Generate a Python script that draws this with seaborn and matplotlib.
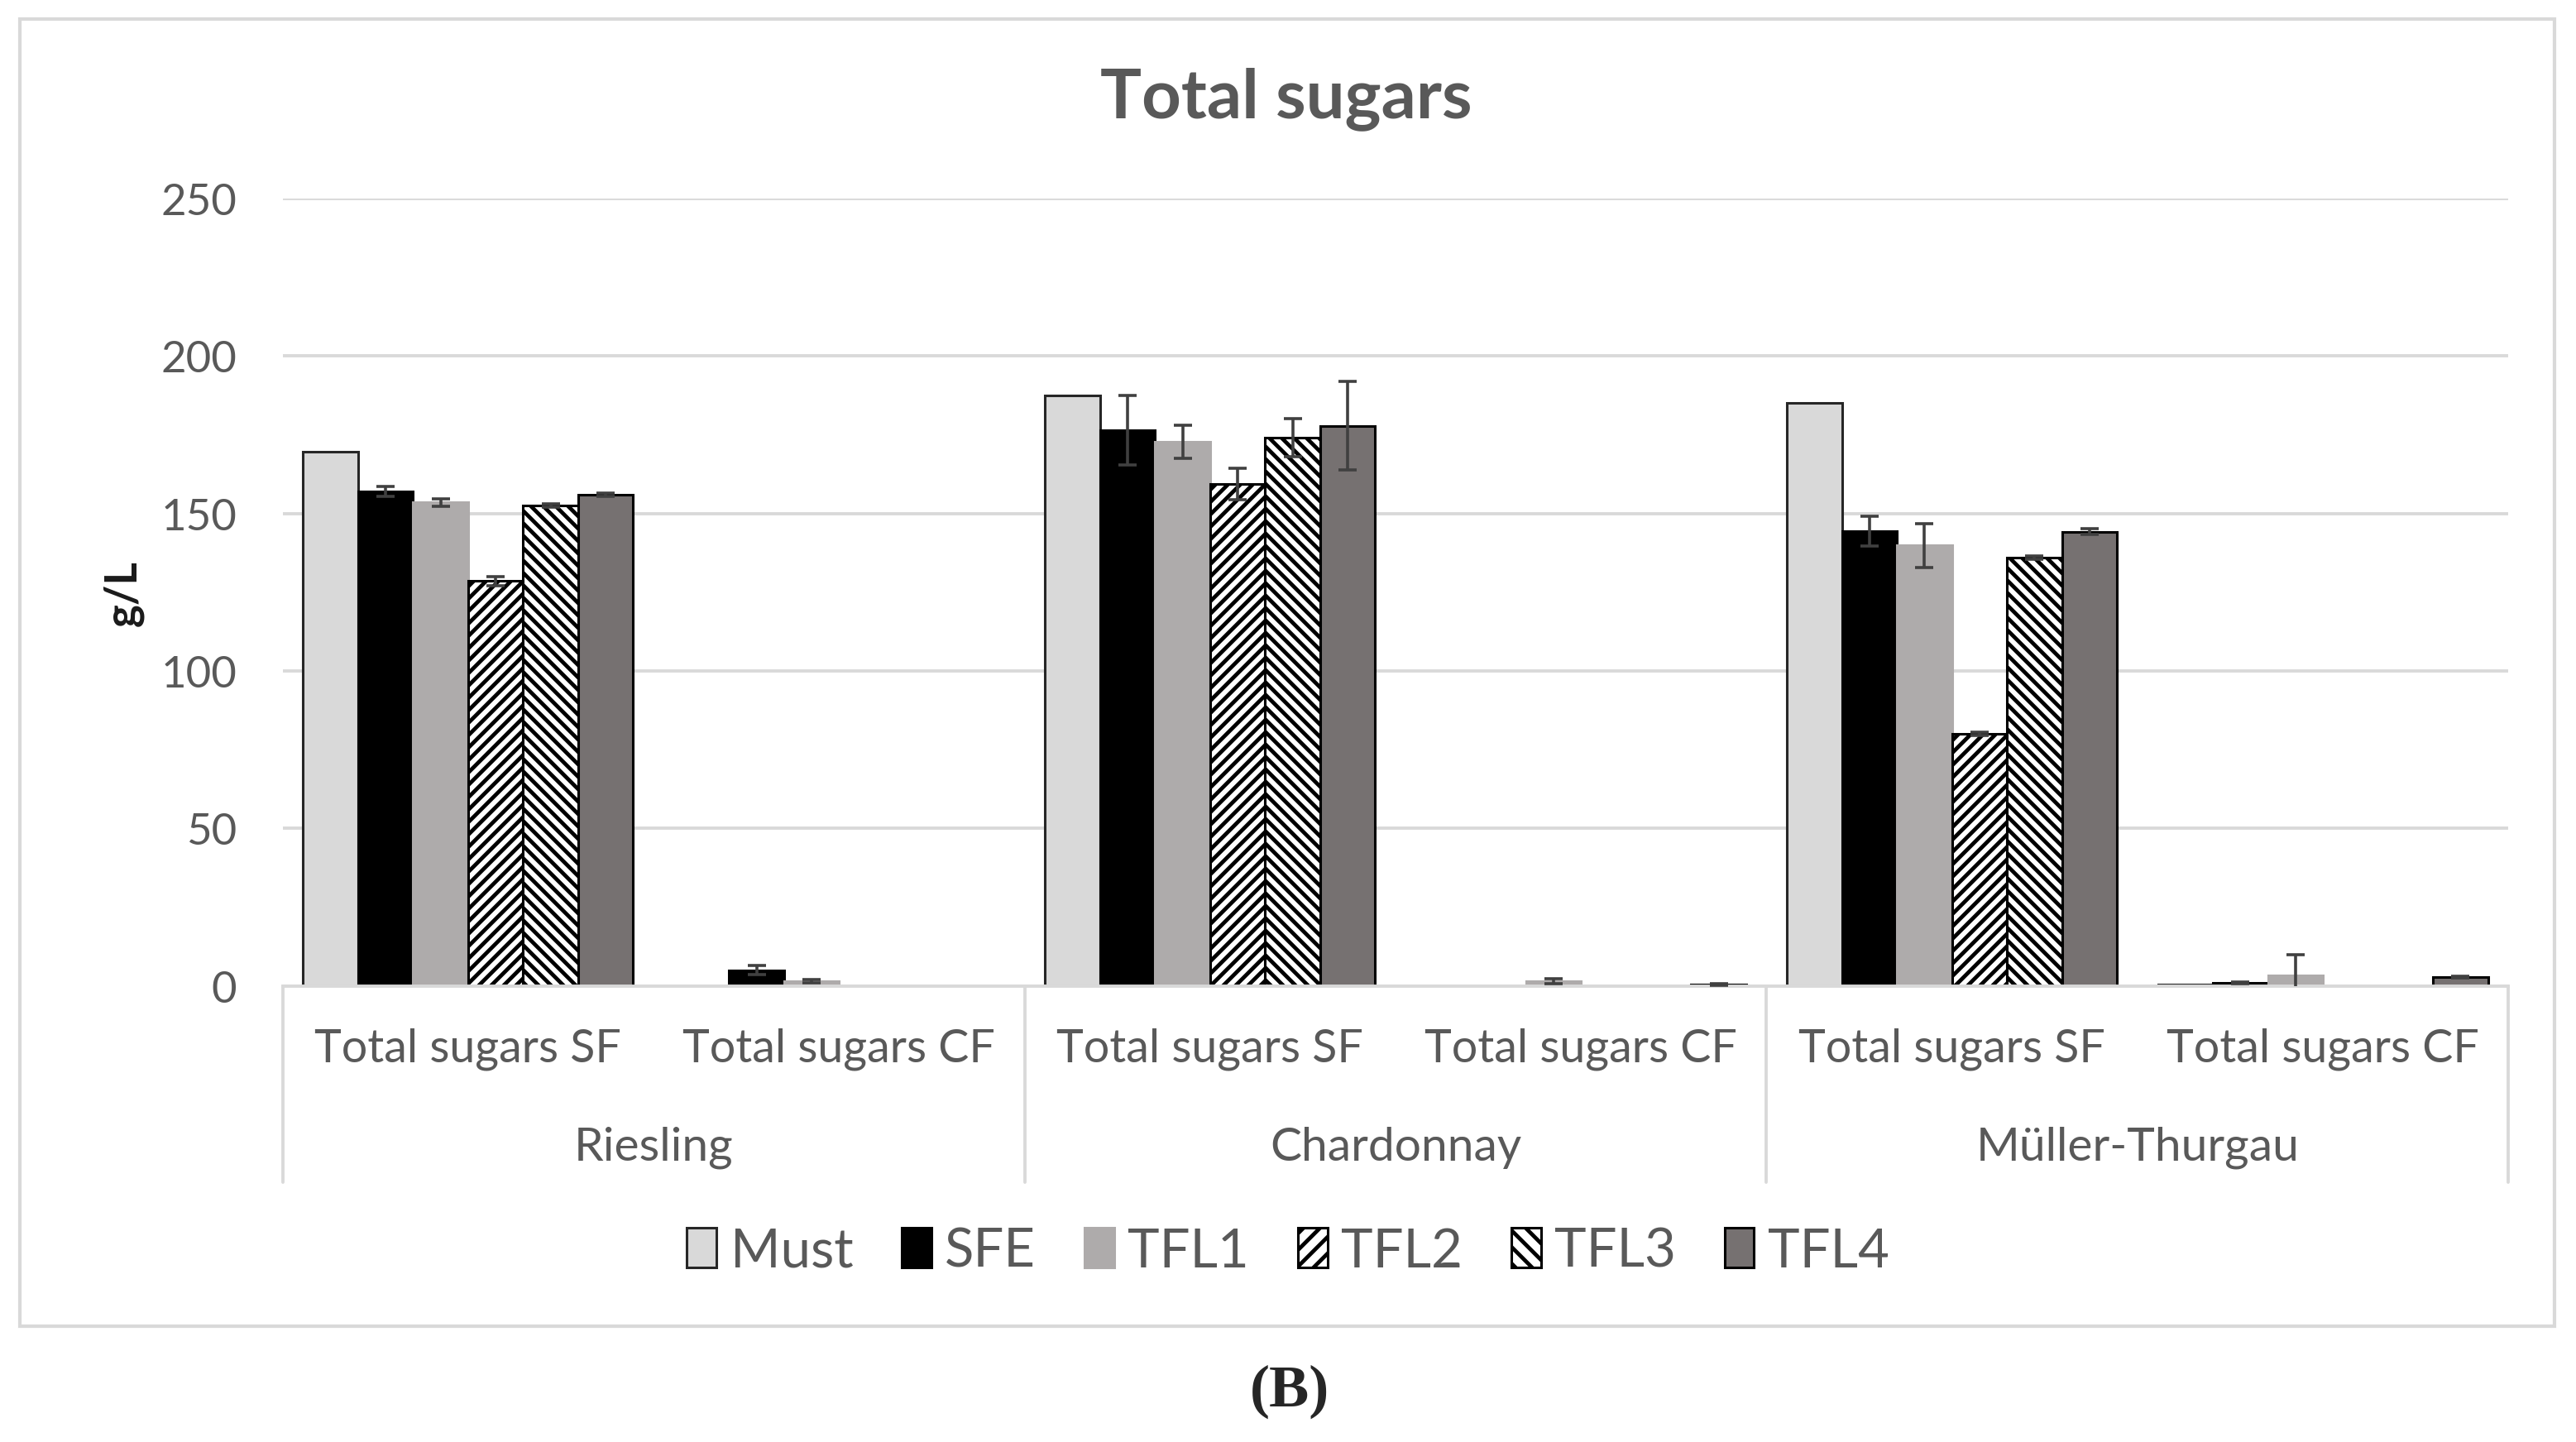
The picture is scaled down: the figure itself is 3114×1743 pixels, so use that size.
import numpy as np
import pandas as pd
import matplotlib
matplotlib.use("Agg")
import matplotlib.pyplot as plt
import matplotlib.transforms as mtransforms
import seaborn as sns
from matplotlib.patches import Patch, Rectangle


# ── data (g/L) ────────────────────────────────────────────────────────────────
varieties  = ["Riesling", "Chardonnay", "Müller-Thurgau"]
fractions  = ["Total sugars SF", "Total sugars CF"]
treatments = ["Must", "SFE", "TFL1", "TFL2", "TFL3", "TFL4"]

riesling_sf   = [169.5, 157.0, 153.5, 128.5, 152.5, 156.0]
riesling_cf   = [0.0, 5.0, 1.5, 0.0, 0.0, 0.0]
chardonnay_sf = [187.5, 176.5, 172.8, 159.3, 174.0, 177.8]
chardonnay_cf = [0.0, 0.0, 1.5, 0.0, 0.0, 0.5]
muller_sf     = [185.0, 144.3, 139.8, 80.0, 136.0, 144.2]
muller_cf     = [0.3, 1.0, 3.3, 0.0, 0.0, 2.7]

riesling_sf_err   = [0.0, 1.5, 1.2, 1.5, 0.5, 0.5]
riesling_cf_err   = [0.0, 1.5, 0.5, 0.0, 0.0, 0.0]
chardonnay_sf_err = [0.0, 11.0, 5.3, 5.0, 6.0, 14.0]
chardonnay_cf_err = [0.0, 0.0, 0.8, 0.0, 0.0, 0.3]
muller_sf_err     = [0.0, 4.8, 7.0, 0.5, 0.5, 1.0]
muller_cf_err     = [0.0, 0.3, 6.5, 0.0, 0.0, 0.3]

means = [riesling_sf, riesling_cf, chardonnay_sf, chardonnay_cf, muller_sf, muller_cf]
errs  = [riesling_sf_err, riesling_cf_err, chardonnay_sf_err, chardonnay_cf_err,
         muller_sf_err, muller_cf_err]

# ── styles ────────────────────────────────────────────────────────────────────
face  = {"Must": "#D9D9D9", "SFE": "#000000", "TFL1": "#AEABAB",
         "TFL2": "#FFFFFF", "TFL3": "#FFFFFF", "TFL4": "#767171"}
edge  = {"Must": "#262626", "SFE": "#000000", "TFL1": "#AEABAB",
         "TFL2": "#000000", "TFL3": "#000000", "TFL4": "#000000"}
hatch = {"Must": "", "SFE": "", "TFL1": "", "TFL2": "////", "TFL3": "\\\\\\\\", "TFL4": ""}
TXT   = "#595959"
GRID  = "#D9D9D9"

# hatch spacing follows dpi, so render at 180 dpi and scale sizes to match
DPI = 180
S = 200 / DPI

# long table
rows = []
cat_order = []
k = 0
for v in varieties:
    for f in fractions:
        cat = f"{v}|{f}"
        cat_order.append(cat)
        for t, m, e in zip(treatments, means[k], errs[k]):
            rows.append({"category": cat, "treatment": t, "value": m, "err": e})
        k += 1
df = pd.DataFrame(rows)

sns.set_style("white")
plt.rcParams["font.family"] = ["Lato", "DejaVu Sans"]
plt.rcParams["hatch.linewidth"] = 1.9

fig = plt.figure(figsize=(3114 / DPI, 1744 / DPI), dpi=DPI)
ax = fig.add_axes([0.1097, 0.3162, 0.8641, 0.5457])

sns.barplot(data=df, x="category", y="value", hue="treatment",
            order=cat_order, hue_order=treatments, palette=face,
            saturation=1, errorbar=None, width=0.89, legend=False, ax=ax)

# bar styling + error bars
for t, cont in zip(treatments, ax.containers):
    sub = df[df["treatment"] == t].set_index("category").loc[cat_order]
    xs, ys, es = [], [], []
    for p, (val, e) in zip(cont.patches, zip(sub["value"], sub["err"])):
        p.set_facecolor(face[t])
        p.set_edgecolor(edge[t])
        p.set_hatch(hatch[t])
        p.set_linewidth(1.1 * S if val > 0 else 0)
        if val <= 0:
            p.set_visible(False)
        if e > 0:
            xs.append(p.get_x() + p.get_width() / 2)
            ys.append(val)
            es.append(e)
    if xs:
        ax.errorbar(xs, ys, yerr=es, fmt="none", ecolor="#404040",
                    elinewidth=1.3 * S, capsize=4 * S, capthick=1.3 * S, zorder=5)

ax.set_xlim(-0.5, len(cat_order) - 0.5)
ax.set_ylim(0, 250)
ax.set_yticks(np.arange(0, 251, 50))
ax.yaxis.grid(True, color=GRID, linewidth=1.4 * S)
ax.set_axisbelow(True)
for s in ["top", "right", "left"]:
    ax.spines[s].set_visible(False)
ax.spines["bottom"].set_color(GRID)
ax.spines["bottom"].set_linewidth(1.4 * S)
ax.tick_params(axis="both", length=0)
ax.tick_params(axis="y", pad=20 * S, labelsize=19 * S, labelcolor=TXT)
ax.set_xticks(range(len(cat_order)))
ax.set_xticklabels([])
ax.set_xlabel("")
ax.set_ylabel("")

# two-level category axis
trans = mtransforms.blended_transform_factory(ax.transData, ax.transAxes)
for i, cat in enumerate(cat_order):
    ax.text(i, -0.0795, cat.split("|")[1], transform=trans, ha="center",
            va="center", fontsize=20 * S, color=TXT)
for j, v in enumerate(varieties):
    ax.text(2 * j + 0.5, -0.205, v, transform=trans, ha="center",
            va="center", fontsize=20.5 * S, color=TXT)
for xb in [-0.5, 1.5, 3.5, 5.5]:
    ax.plot([xb, xb], [0, -0.249], transform=trans, color=GRID,
            linewidth=1.4 * S, clip_on=False)

fig.text(0.048, 0.589, "g/L", rotation=90, ha="center", va="center",
         fontsize=19 * S, fontweight="bold", color="#1a1a1a")
fig.text(0.4994, 0.9315, "Total sugars", ha="center", va="center",
         fontsize=30 * S, fontweight="bold", color=TXT)

handles = [Patch(facecolor=face[t], edgecolor=edge[t] if t != "TFL1" else face[t],
                 hatch=hatch[t].replace("////", "///").replace("\\\\\\\\", "\\\\\\"),
                 linewidth=1.1 * S) for t in treatments]
fig.legend(handles, treatments, loc="center", bbox_to_anchor=(0.5, 0.1324),
           ncol=6, frameon=False, fontsize=23.5 * S, handlelength=0.55,
           handleheight=0.75, handletextpad=0.25, columnspacing=0.9,
           labelcolor=TXT)

fig.patches.append(Rectangle((0.0077, 0.080), 0.984, 0.906,
                             transform=fig.transFigure, fill=False,
                             edgecolor=GRID, linewidth=1.5 * S))

fig.text(0.5006, 0.0354, "(B)", ha="center", va="center", fontsize=26 * S,
         fontweight="bold", family=["Liberation Serif", "DejaVu Serif"])

fig.savefig("out.png", dpi=DPI, facecolor="white")
plt.close(fig)
